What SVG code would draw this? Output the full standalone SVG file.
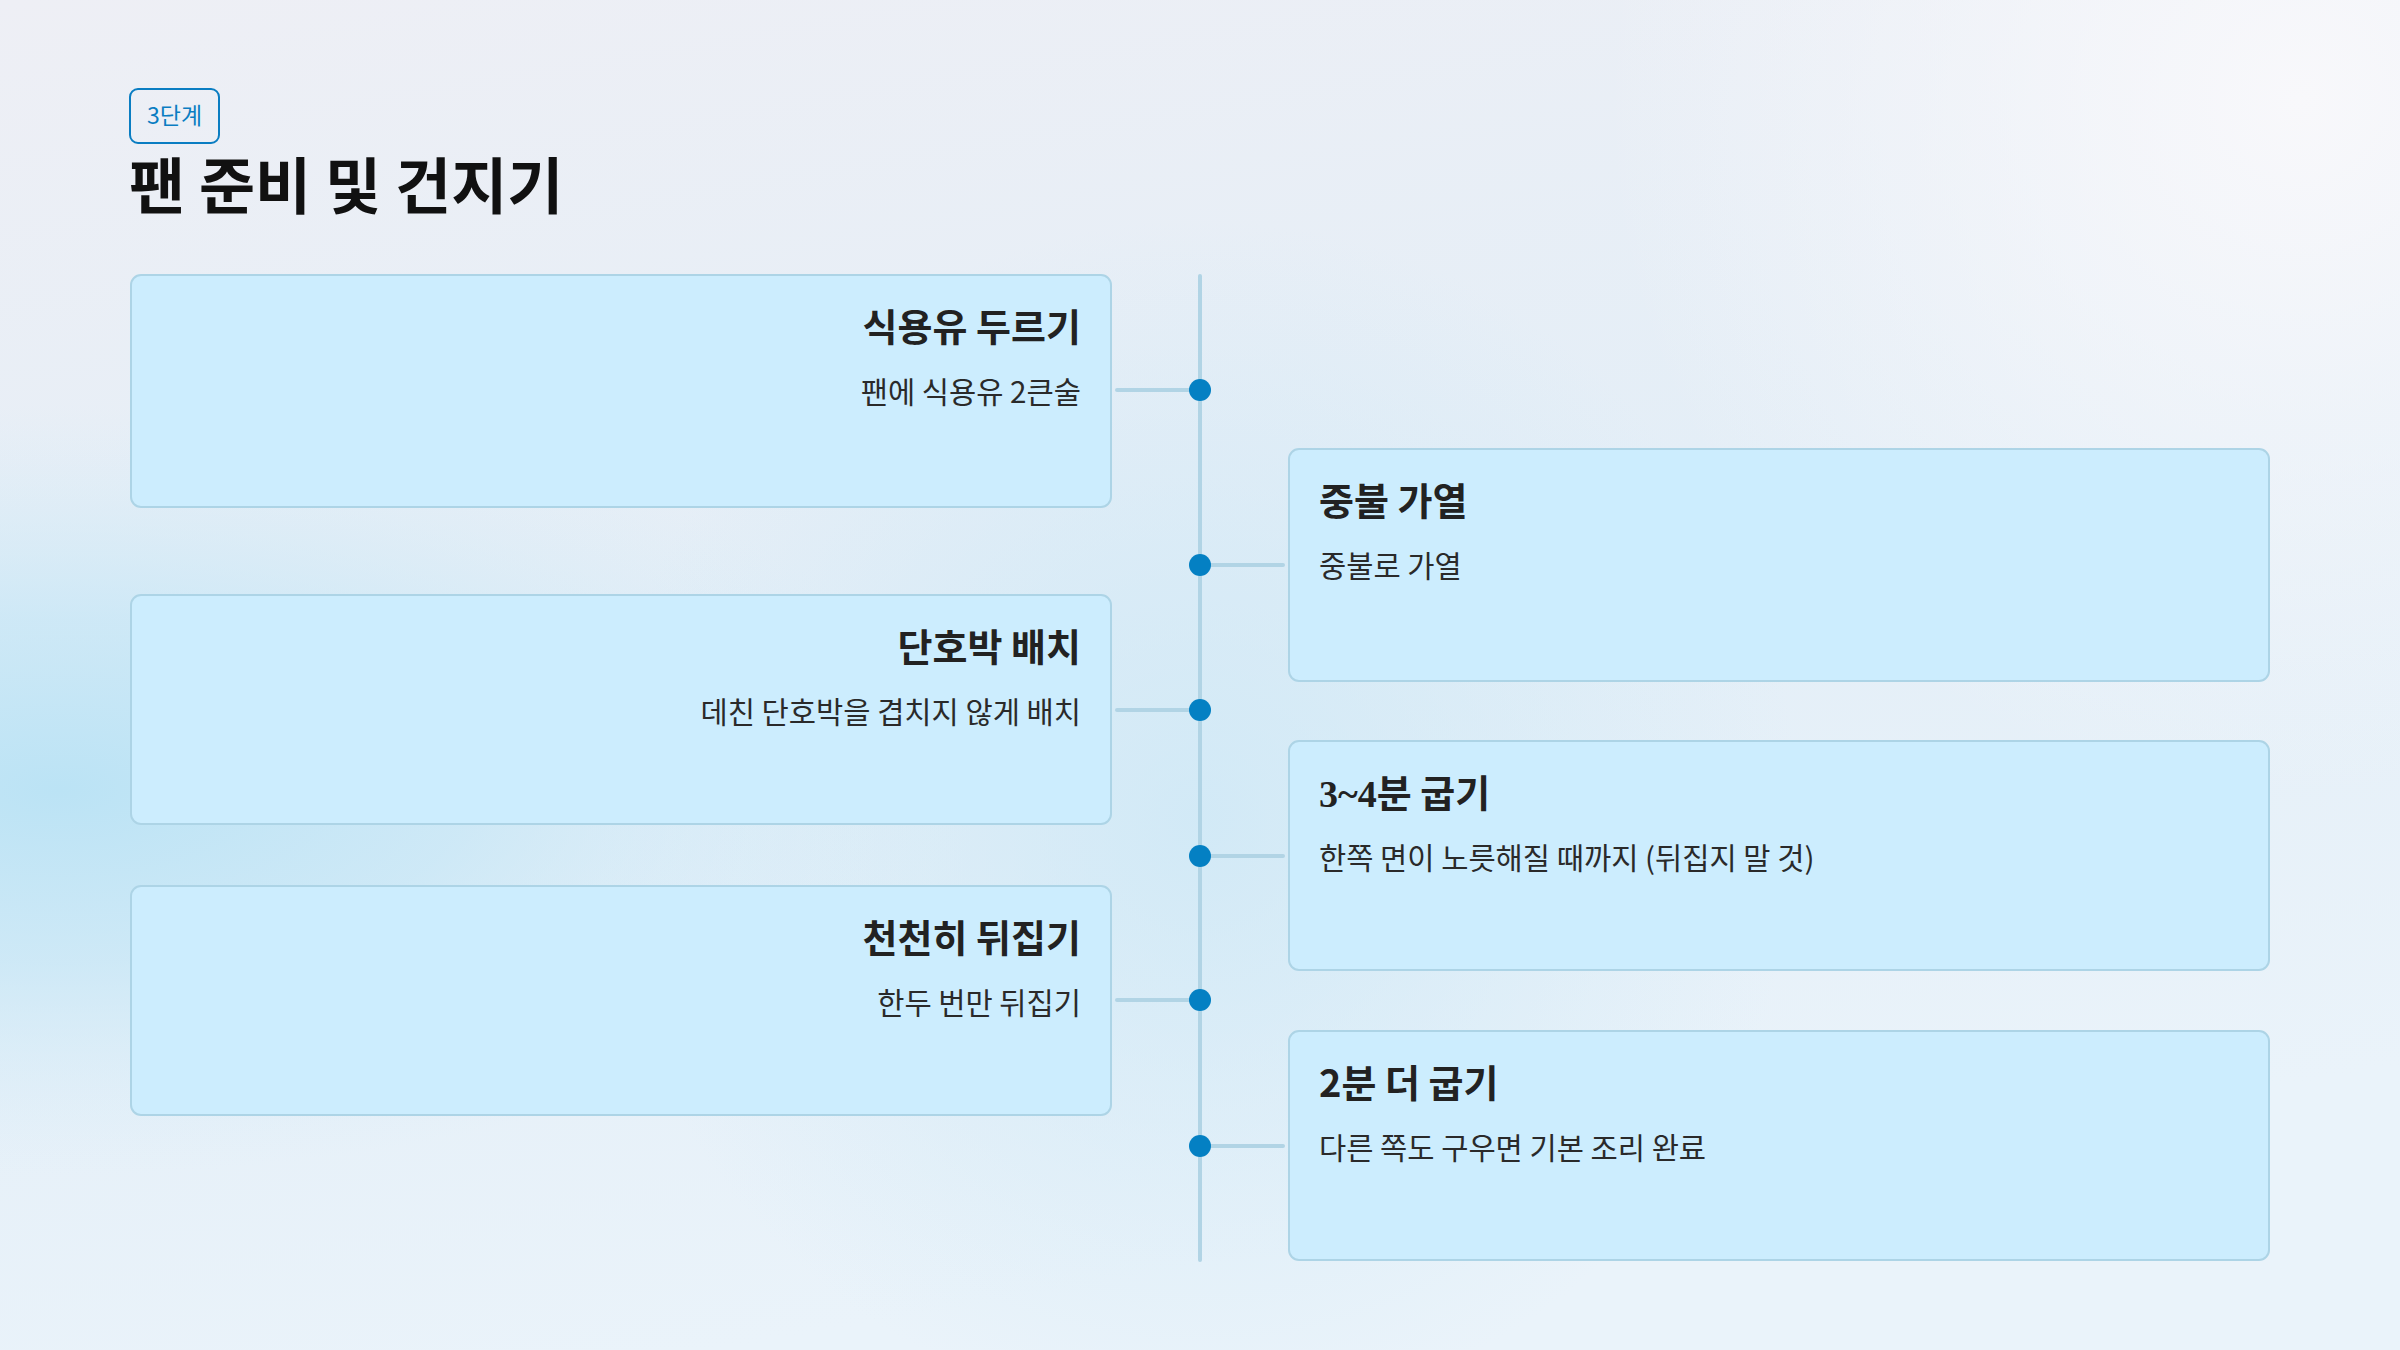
<svg xmlns="http://www.w3.org/2000/svg" width="2400" height="1350" viewBox="0 0 2400 1350">
  <defs>
    <linearGradient id="bg" x1="0" y1="0" x2="0.3" y2="1">
      <stop offset="0" stop-color="#EEEFF5"/>
      <stop offset="0.55" stop-color="#E3EEF7"/>
      <stop offset="1" stop-color="#EAF3FA"/>
    </linearGradient>
    <radialGradient id="blob" cx="60" cy="790" r="700" gradientUnits="userSpaceOnUse" gradientTransform="translate(60 790) scale(1.3 0.55) translate(-60 -790)">
      <stop offset="0" stop-color="#BBE3F5" stop-opacity="1"/>
      <stop offset="0.45" stop-color="#C4E6F6" stop-opacity="0.7"/>
      <stop offset="1" stop-color="#D6ECF8" stop-opacity="0"/>
    </radialGradient>
    <radialGradient id="blob2" cx="1200" cy="820" r="600" gradientUnits="userSpaceOnUse">
      <stop offset="0" stop-color="#CDE8F6" stop-opacity="0.8"/>
      <stop offset="1" stop-color="#CDE8F6" stop-opacity="0"/>
    </radialGradient>
    <radialGradient id="glow" cx="2300" cy="100" r="700" gradientUnits="userSpaceOnUse">
      <stop offset="0" stop-color="#F8F8FB" stop-opacity="1"/>
      <stop offset="1" stop-color="#F8F8FB" stop-opacity="0"/>
    </radialGradient>
    <style>
      .card { fill: #CCEDFE; stroke: #ADD4E6; stroke-width: 2; }
      .ct { font-family: "Noto Sans CJK KR", "Noto Sans", sans-serif; font-weight: 700; font-size: 38px; fill: #222222; }
      .cd { font-family: "Noto Sans CJK KR", "Noto Sans", sans-serif; font-weight: 400; font-size: 29.6px; fill: #2A2A2A; }
      .end { text-anchor: end; }
      .line { stroke: #B1D4E5; stroke-width: 4; stroke-linecap: round; fill: none; }
      .dot { fill: #0480C3; }
    </style>
  </defs>

  <rect x="0" y="0" width="2400" height="1350" fill="url(#bg)"/>
  <rect x="0" y="0" width="2400" height="1350" fill="url(#glow)"/>
  <rect x="0" y="0" width="2400" height="1350" fill="url(#blob2)"/>
  <rect x="0" y="0" width="2400" height="1350" fill="url(#blob)"/>

  <g id="header">
    <rect x="130" y="89" width="89" height="54" rx="8" fill="none" stroke="#0A7DC2" stroke-width="2"/>
    <text x="174.5" y="124" text-anchor="middle" font-family="'Noto Sans CJK KR', 'Noto Sans', sans-serif" font-size="23" fill="#0A7DC2">3단계</text>
    <text x="129" y="209" font-family="'Noto Sans CJK KR', 'Noto Sans', sans-serif" font-size="61" font-weight="700" fill="#111111">팬 준비 및 건지기</text>
  </g>

  <g id="connectors">
    <line class="line" x1="1200" y1="276" x2="1200" y2="1260"/>
    <line class="line" x1="1117" y1="390" x2="1200" y2="390"/>
    <line class="line" x1="1200" y1="565" x2="1283" y2="565"/>
    <line class="line" x1="1117" y1="710" x2="1200" y2="710"/>
    <line class="line" x1="1200" y1="856" x2="1283" y2="856"/>
    <line class="line" x1="1117" y1="1000" x2="1200" y2="1000"/>
    <line class="line" x1="1200" y1="1146" x2="1283" y2="1146"/>
    <circle class="dot" cx="1200" cy="390" r="11"/>
    <circle class="dot" cx="1200" cy="565" r="11"/>
    <circle class="dot" cx="1200" cy="710" r="11"/>
    <circle class="dot" cx="1200" cy="856" r="11"/>
    <circle class="dot" cx="1200" cy="1000" r="11"/>
    <circle class="dot" cx="1200" cy="1146" r="11"/>
  </g>

  <g id="step1">
    <rect class="card" x="131" y="275" width="980" height="232" rx="10"/>
    <text class="ct end" x="1081" y="341">식용유 두르기</text>
    <text class="cd end" x="1081" y="403">팬에 식용유 2큰술</text>
  </g>

  <g id="step2">
    <rect class="card" x="1289" y="449" width="980" height="232" rx="10"/>
    <text class="ct" x="1319" y="515">중불 가열</text>
    <text class="cd" x="1319" y="577">중불로 가열</text>
  </g>

  <g id="step3">
    <rect class="card" x="131" y="595" width="980" height="229" rx="10"/>
    <text class="ct end" x="1081" y="661">단호박 배치</text>
    <text class="cd end" x="1081" y="723">데친 단호박을 겹치지 않게 배치</text>
  </g>

  <g id="step4">
    <rect class="card" x="1289" y="741" width="980" height="229" rx="10"/>
    <text class="ct" x="1319" y="807"><tspan font-family="'Liberation Serif', serif">3~4</tspan>분 굽기</text>
    <text class="cd" x="1319" y="869">한쪽 면이 노릇해질 때까지 (뒤집지 말 것)</text>
  </g>

  <g id="step5">
    <rect class="card" x="131" y="886" width="980" height="229" rx="10"/>
    <text class="ct end" x="1081" y="952">천천히 뒤집기</text>
    <text class="cd end" x="1081" y="1014">한두 번만 뒤집기</text>
  </g>

  <g id="step6">
    <rect class="card" x="1289" y="1031" width="980" height="229" rx="10"/>
    <text class="ct" x="1319" y="1097">2분 더 굽기</text>
    <text class="cd" x="1319" y="1159">다른 쪽도 구우면 기본 조리 완료</text>
  </g>
</svg>
